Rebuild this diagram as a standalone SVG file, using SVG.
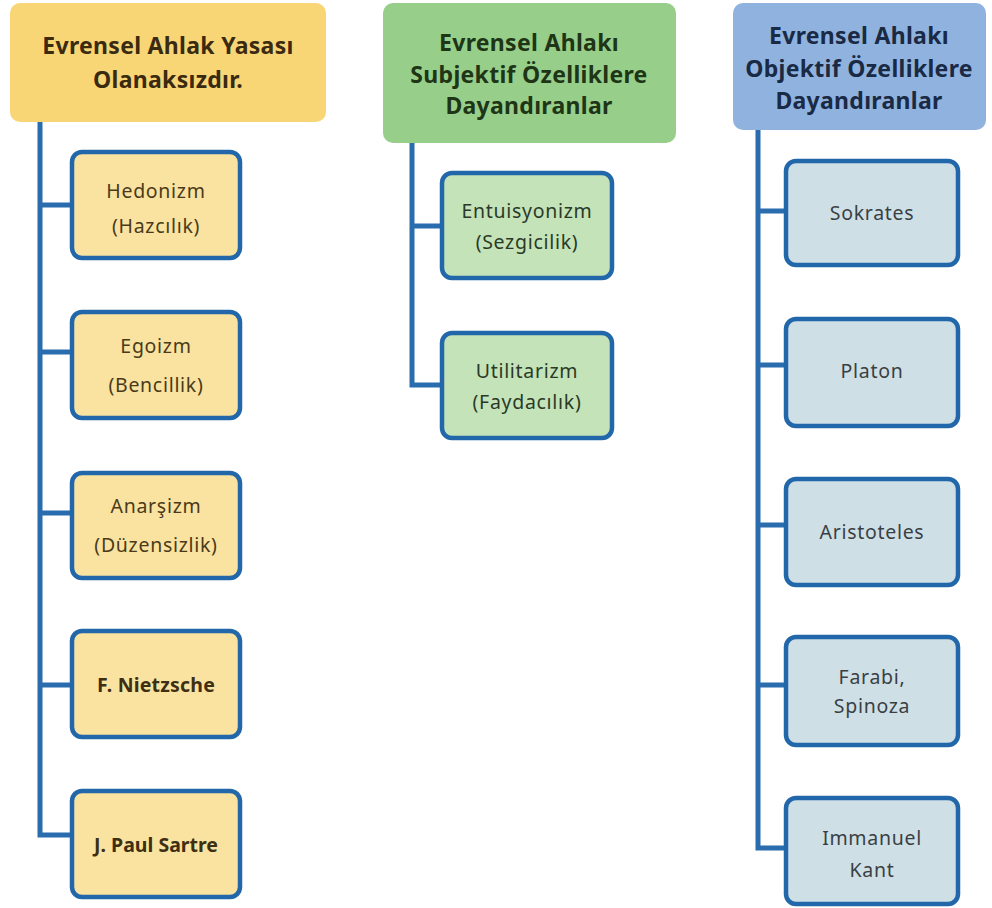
<svg xmlns="http://www.w3.org/2000/svg" width="992" height="908" viewBox="0 0 992 908">
<style>
.hdr{font-family:"Noto Sans","Open Sans",sans-serif;font-weight:bold;font-size:23px;letter-spacing:0.3px;text-anchor:middle}
.lbl{font-family:"Noto Sans","Open Sans",sans-serif;font-size:19.5px;letter-spacing:0.7px;text-anchor:middle}
.conn{fill:none;stroke:#2A6DAE;stroke-width:5}
.cy{fill:#FAE3A0;stroke:#2167A9;stroke-width:4.5}
.cg{fill:#C4E3B9;stroke:#2167A9;stroke-width:4.5}
.cb{fill:#CFDFE6;stroke:#2167A9;stroke-width:4.5}
</style>
<rect width="992" height="908" fill="#FFFFFF"/>
<g id="connectors">
<path class="conn" d="M40 122 V835 H72 M40 205 H72 M40 352 H72 M40 513 H72 M40 685 H72"/>
<path class="conn" d="M412 143 V385 H442 M412 226 H442"/>
<path class="conn" d="M758 130 V848 H786 M758 211 H786 M758 365 H786 M758 525 H786 M758 685 H786"/>
</g>
<g id="h1"><rect x="10" y="3" width="316" height="119" rx="10" fill="#F9D675"/>
<text class="hdr" fill="#3A2A10"><tspan x="168" y="54">Evrensel Ahlak Yasası</tspan><tspan x="168" y="88">Olanaksızdır.</tspan></text></g>
<g id="n1"><rect class="cy" x="72" y="152" width="168" height="106" rx="10"/>
<text class="lbl" fill="#4A3A1A"><tspan x="156" y="198">Hedonizm</tspan><tspan x="156" y="233">(Hazcılık)</tspan></text></g>
<g id="n2"><rect class="cy" x="72" y="312" width="168" height="106" rx="10"/>
<text class="lbl" fill="#4A3A1A"><tspan x="156" y="353">Egoizm</tspan><tspan x="156" y="392">(Bencillik)</tspan></text></g>
<g id="n3"><rect class="cy" x="72" y="473" width="168" height="105" rx="10"/>
<text class="lbl" fill="#4A3A1A"><tspan x="156" y="513">Anarşizm</tspan><tspan x="156" y="552">(Düzensizlik)</tspan></text></g>
<g id="n4"><rect class="cy" x="72" y="631" width="168" height="106" rx="10"/>
<text class="lbl" fill="#3E2F12" font-weight="bold" style="letter-spacing:0.2px"><tspan x="156" y="692">F. Nietzsche</tspan></text></g>
<g id="n5"><rect class="cy" x="72" y="791" width="168" height="106" rx="10"/>
<text class="lbl" fill="#3E2F12" font-weight="bold" style="letter-spacing:0px"><tspan x="156" y="852">J. Paul Sartre</tspan></text></g>
<g id="h2"><rect x="383" y="3" width="293" height="140" rx="10" fill="#97CF8A"/>
<text class="hdr" fill="#1E3516"><tspan x="529" y="51">Evrensel Ahlakı</tspan><tspan x="529" y="83">Subjektif Özelliklere</tspan><tspan x="529" y="114">Dayandıranlar</tspan></text></g>
<g id="n6"><rect class="cg" x="442" y="173" width="170" height="105" rx="10"/>
<text class="lbl" fill="#2A3A26"><tspan x="527" y="218">Entuisyonizm</tspan><tspan x="527" y="249">(Sezgicilik)</tspan></text></g>
<g id="n7"><rect class="cg" x="442" y="333" width="170" height="105" rx="10"/>
<text class="lbl" fill="#2A3A26"><tspan x="527" y="378">Utilitarizm</tspan><tspan x="527" y="409">(Faydacılık)</tspan></text></g>
<g id="h3"><rect x="733" y="3" width="253" height="127" rx="10" fill="#8FB3DE"/>
<text class="hdr" fill="#1A2944"><tspan x="859" y="44">Evrensel Ahlakı</tspan><tspan x="859" y="77">Objektif Özelliklere</tspan><tspan x="859" y="109">Dayandıranlar</tspan></text></g>
<g id="n8"><rect class="cb" x="786" y="161" width="172" height="104" rx="10"/>
<text class="lbl" fill="#3A3F44"><tspan x="872" y="220">Sokrates</tspan></text></g>
<g id="n9"><rect class="cb" x="786" y="319" width="172" height="107" rx="10"/>
<text class="lbl" fill="#3A3F44"><tspan x="872" y="378">Platon</tspan></text></g>
<g id="n10"><rect class="cb" x="786" y="479" width="172" height="106" rx="10"/>
<text class="lbl" fill="#3A3F44"><tspan x="872" y="539">Aristoteles</tspan></text></g>
<g id="n11"><rect class="cb" x="786" y="637" width="172" height="108" rx="10"/>
<text class="lbl" fill="#3A3F44"><tspan x="872" y="684">Farabi,</tspan><tspan x="872" y="713">Spinoza</tspan></text></g>
<g id="n12"><rect class="cb" x="786" y="798" width="172" height="106" rx="10"/>
<text class="lbl" fill="#3A3F44"><tspan x="872" y="845">Immanuel</tspan><tspan x="872" y="877">Kant</tspan></text></g>
</svg>
